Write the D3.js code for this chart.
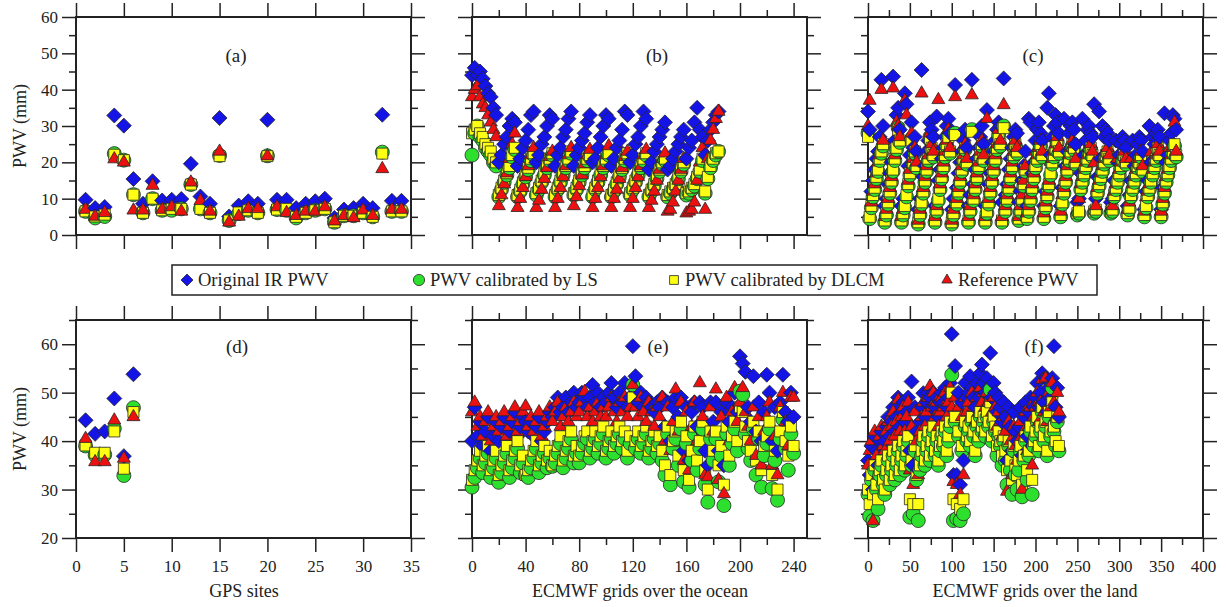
<!DOCTYPE html>
<html>
<head>
<meta charset="utf-8">
<script src="https://cdn.jsdelivr.net/npm/d3@7"></script>
<style>
body { margin: 0; background: #fff; }
svg text { font-family: "Liberation Serif", "Times New Roman", serif; fill: #222; }
.tick text { font-size: 17px; }
</style>
</head>
<body>
<svg id="chart" width="1226" height="607" font-family="Liberation Serif"></svg>
<script>
// ---- data ----
const seriesNames = ["Original IR PWV", "PWV calibrated by LS", "PWV calibrated by DLCM", "Reference PWV"];
const seriesColors = ["#1414e6", "#2ee02e", "#ffff14", "#ec1010"];

// (a) GPS sites, first period
const aSite = d3.range(1, 35);
const aIR   = [9.7,7.4,7.7,32.9,30.1,15.4,8.6,14.8,9.5,9.7,9.9,19.6,10.6,8.6,32.2,5.1,8.1,9.3,8.6,31.7,9.7,9.7,7.4,8.6,9.3,10.0,4.7,7.0,7.4,8.6,7.4,33.1,9.4,9.4];
const aLS   = [6.5,4.7,5.1,22.4,20.6,11.1,6.1,10.0,6.8,6.8,7.2,13.9,7.2,6.1,21.9,4.0,5.9,6.8,6.1,21.8,7.0,6.8,4.7,6.1,6.8,7.2,3.5,5.3,5.3,6.1,5.0,22.8,6.5,6.5];
const aDLCM = [6.5,5.1,5.6,22.1,20.6,11.1,6.1,10.0,6.8,7.2,7.2,13.9,7.2,6.1,21.7,4.0,6.2,6.8,6.1,21.7,7.0,7.2,5.0,6.1,6.8,7.2,3.5,5.3,5.3,6.1,5.0,22.4,6.5,6.5];
const aRef  = [7.0,5.1,6.1,20.9,20.0,6.8,6.8,13.6,7.0,7.7,6.5,14.5,9.4,6.5,23.0,3.5,5.1,7.2,7.2,21.7,7.7,6.1,5.3,6.5,6.5,7.7,3.8,5.3,4.7,6.8,5.3,18.2,7.0,7.0];

// (b) ECMWF grids over the ocean, first period
const bGrid = d3.range(0, 185, 2);
const bIR = [44,46,44,45,43,41,39,38,35,33,
  20,22,25,27,30,32,31, 19,21,24,26,29,33,34, 20,22,25,27,30,33,32, 19,22,24,27,29,32,34,
  19,22,24,26,28,31,33, 20,21,24,27,30,33,32, 19,21,24,26,29,34,33, 20,22,25,27,30,34,32,
  18,20,23,25,27,29,31, 18,19,21,23,25,27,29, 21,24,26,31,35,29,27,
  22,26,29,31,33,34];
const bLS = [22,28,30,27,26,24,23,22,20,19,
  10.5,12.5,14.5,16.5,18.5,21.5,23.5, 10.5,12,14,16,18,20.5,22, 11,12.5,14.5,16.5,18.5,20.5,22, 10.5,12.5,14.5,16.5,18.5,20.5,22.5,
  11,12.5,14.5,16.5,18.5,20.5,21.5, 10.5,12.5,14.5,16.5,18.5,20.5,22, 10.5,12,14,16,18,20.5,22, 11,12.5,14.5,16.5,18.5,20.5,22,
  10.5,12,13.5,15.5,17.5,19.5,20.5, 10.5,11.5,12.5,13.5,15.5,17.5,19.5, 11,11.5,12.5,13.5,15.5,17.5,20.5,
  11.5,15.5,18.5,20.5,22,23];
const bDLCM = [28,29,30,28,27,25,24,23,21,20,
  11,13,15,17,19,22,24, 11,12.5,14.5,16.5,18.5,21,22.5, 11.5,13,15,17,19,21,22.5, 11,13,15,17,19,21,23,
  11.5,13,15,17,19,21,22, 11,13,15,17,19,21,22.5, 11,12.5,14.5,16.5,18.5,21,22.5, 11.5,13,15,17,19,21,22.5,
  11,12.5,14,16,18,20,21, 11,12,13,14,16,18,20, 11.5,12,13,14,16,18,21,
  12,16,19,21,22.5,23];
const bRef = [38,40,41,38,36,35,33,31,29,27,
  8,11,14,17,21,25,28, 7.5,10,13,16,19,22,24, 7.5,9.5,12.5,15.5,18.5,21.5,23, 7.5,10,13,16,19,22,24,
  8,10.5,13.5,16.5,19.5,22,23.5, 7.5,10,13,16,19,22,24.5, 7.5,10,12.5,15.5,18.5,21.5,23, 7.5,10,13,16,19,22,23.5,
  7.5,9.5,12,15,18,21,22.5, 6.5,7,9,12,15,18,21, 6,6.5,7,9,15,20,24,
  7,21,26,29,32,34];

// (c) ECMWF grids over the land, first period
const cGrid = d3.range(0, 369, 2);
const cIR = [
  34,29,12,15,18,21,23,27,42.7,30, 8,10,14,17,20,43.6,26,33,35,29, 8,10,39,36,19,22,31,24,27,23,
  7,10,45.4,16,19,23,26,31,29,27, 8,32.6,15,18,21,24,27,30,32,28, 7,10,41.3,13,17,20,23,26,29,24,
  8,11,42.7,14,18,21,24,27,30,25, 8,34.4,14,17,20,23,26,29,31,30, 9,43.1,11,14,18,21,24,27,29,28,
  9,12,15,19,23,
  8,32,31,17,20,26,29,31,28,26, 8,12,35,39,22,27,30,33,31,28, 8,13,32,19,23,28,30,31,29,25,
  9,10,17,32,22,26,29,30,28,27, 36,10,16,34,21,30,27,29,28,26, 9,10,15,26,20,22,25,27,26,24,
  8,11,15,26,19,22,25,27,26,23, 7,12,15,30,20,27,25,28,29,27, 7,13,33.5,20,22,26,28,33,32,29];
const cLS = [
  28,4.5,7.5,10.5,12.5,15.5,17.5,20.5,22.5,24.5, 3.5,5.5,8.5,11.5,14.5,17.5,20.5,23.5,29.5,25.5, 3.5,5.5,7.5,10.5,13.5,16.5,26.5,19.5,22.5,18.5,
  3,5.5,8.5,11.5,14.5,17.5,20.5,27,23.5,21.5, 3.5,6.5,9.5,12.5,15.5,18.5,21.5,24.5,27.5,22.5, 3,5.5,28,8.5,11.5,14.5,17.5,20.5,23.5,19.5,
  3.5,6.5,29,9.5,12.5,15.5,18.5,21.5,24.5,20.5, 3.5,6,8.5,11.5,14.5,17.5,20.5,23.5,27.5,24.5, 3.5,30,6.5,9.5,12.5,15.5,18.5,21.5,24.5,22.5,
  4,6.5,9.5,13.5,17.5,
  4.5,6.5,9.5,12.5,15.5,18.5,20.5,22.5,24.5,21.5, 4.5,7.5,10.5,13.5,16.5,19.5,21.5,23.5,25.5,22.5, 5,8.5,11.5,14.5,17.5,20.5,22.5,24.5,23.5,19.5,
  5.5,6,12.5,14.5,16.5,18.5,20.5,22.5,23.5,21.5, 6,6.5,11.5,13.5,15.5,17.5,19.5,21.5,22.5,20.5, 6,6.5,10.5,12.5,14.5,16.5,18.5,20.5,21.5,19.5,
  5.5,7,10.5,12.5,14.5,16.5,18.5,19.5,21.5,17.5, 5,7.5,10.5,12.5,14.5,16.5,18.5,20.5,23.5,21.5, 5,8.5,11.5,14.5,16.5,18.5,20.5,22.5,24.5,21.5];
const cDLCM = [
  27,5,8,11,13,16,18,21,23,25, 4,6,9,12,15,18,21,24,29,26, 4,6,8,11,14,17,26,20,23,19,
  3.5,6,9,12,15,18,21,26.5,24,22, 4,7,10,13,16,19,22,25,27,23, 3.5,6,27.5,9,12,15,18,21,24,20,
  4,7,28.4,10,13,16,19,22,25,21, 4,6.5,9,12,15,18,21,24,27,25, 4,29.4,7,10,13,16,19,22,25,23,
  4.5,7,10,14,18,
  5,7,10,13,16,19,21,23,25,22, 5,8,11,14,17,20,22,24,26,23, 5.5,9,12,15,18,21,23,25,24,20,
  6,6.5,13,15,17,19,21,23,24,22, 6.5,7,12,14,16,18,20,22,23,21, 6.5,7,11,13,15,17,19,21,22,20,
  6,7.5,11,13,15,17,19,20,22,18, 5.5,8,11,13,15,17,19,21,24,22, 5.5,9,12,15,17,19,21,23,25,22];
const cRef = [
  30,37,9,12,14,17,20,22,40,26, 5,7,10,13,16,40.4,22,31,30,27, 5,7,37,33,15,18,28,21,24,20,
  4,7,39,13,16,19,22,28,25,23, 5,8,37.2,14,17,20,23,26,29,24, 4,7,38,10,13,16,19,22,25,21,
  5,8,38.5,11,14,17,20,23,26,22, 5,32,10,13,16,19,22,25,29,26, 5,35.8,8,11,14,17,20,23,26,24,
  5,8,11,15,19,
  6,8,11,14,17,23,22,24,26,23, 6,9,12,15,20.2,21,23,25,27,24, 6.5,11,13,16,19,22,24,26,25,21,
  7,10,14,16,18,20,22,24,25,23, 19.8,8,13,15,17,19,21,23,24,22, 7.5,8,12,14,21,18,20,22,23,21,
  7,9,21,14,16,18,20,21,23,19, 6.5,10.4,12,14,22.8,18,20,22,25,23, 6.5,10,13,16,18,24,22,24,31,23];

// (d) GPS sites, second period
const dSite = d3.range(1, 7);
const dIR   = [44.3, 41.5, 42.0, 48.8, 36.9, 53.8];
const dLS   = [39.0, 37.1, 37.2, 42.6, 32.9, 46.9];
const dDLCM = [39.1, 37.6, 37.6, 42.0, 34.3, 46.0];
const dRef  = [40.5, 35.7, 35.7, 44.3, 36.4, 45.0];

// (e) ocean, second period
const eGrid = d3.range(0, 241, 2);
const eIR = [
  40,47,41,44,39,42,45,38,41,44, 40,43,45,40,42,44,46,41,43,45, 44,42,44,41,43,45,40,42,44,46,
  45,47,49,46,47,49,46,48,50,47, 48,50,49,47,49,51.6,48,50,47,49, 48,50,52,49,47,50,48,52,47,49,
  59.6,53.4,48,50,47,49,48,47,46,48, 47,49,43,48,40,47,49,45,49,38, 47,36,46,48,43,48,47,38,35,48,
  44,48,38,46,35,48,44,47,50,46, 57.5,56,54.3,47,44,53.4,42,48,40,46, 53.7,50,40,47,38,48,53.7,46,44,50,
  45];
const eLS = [
  30.5,32.5,34.5,36.5,33.5,35.5,37.5,32.5,34.5,36.5, 31.5,33.5,35.5,37.5,32.5,34.5,36.5,38.5,33.5,35.5, 33,32.5,34.5,36.5,38.5,33.5,35.5,37.5,34.5,36.5,
  34.8,35.5,37.5,39.5,34.5,36.5,38.5,40.5,35.5,37.5, 35.5,37.5,39.5,40.5,36.5,38.5,40.5,37.5,39.5,41.5, 36.5,38.5,40.5,37.5,39.5,41.5,38.5,40.5,36.5,39.5,
  51.6,38.5,40.5,37.5,39.5,41.5,36.5,38.5,40.5,37.5, 39.5,36,33,41.5,31,38.5,40.5,35,42.5,31.6, 39.5,30.5,36,41.5,34,38.5,42.5,31,27.4,40.5,
  36,40.5,31.6,37,26.7,41.5,35,39.5,42.5,38, 50.3,49.6,41.5,38.5,36,42.5,33,40.5,30.5,37, 39.5,42.5,30.2,36,27.8,40.5,44.5,38.5,34,41.5,
  37.5];
const eDLCM = [
  32,34,36,38,35,37,39,34,36,38, 33,35,37,39,34,36,38,40,35,37, 33,34,36,38,40,35,37,39,36,38,
  35,37,39,41,36,38,40,42,37,39, 37,39,41,42,38,40,42,39,41,43, 38,40,42,39,41,43,40,42,38,41,
  49,40,42,39,41,43,38,40,42,39, 41,38,35,43,33,40,42,37,44,34, 41,32,38,43,36,40,44,34,30,42,
  38,42,35,39,31,43,37,41,44,40, 47,46,43,40,38,44,36,42,34,39, 41,44,33,38,30,42,46,40,37,43,
  39];
const eRef = [
  46,48,43,45,41,44,46,40,43,45, 42,44,46,41,43,45,47,42,44,46, 47.2,43,45,42,44,46,41,43,45,47,
  44,46,48,43,45,47,44,46,48,45, 46,48,50.2,45,47,44,46,48,45,47, 45,47,49,46,44,48,46,49,45,47,
  51.6,47,45,49,46,44,48,46,43,47, 45,49,40,47,38,44,50.7,42,48,36, 46,34,43,48,40,52,45,33,32.6,47,
  42,50.7,32,45,29.1,49,40,46,51,44, 48,51,46,43,40,47,37,45,35,42, 45,48,35,41,33,47,50,44,39,49,
  49];

// (f) land, second period
const fGrid = d3.range(0, 229, 2);
const fIR = [
  36,33,39,30,41,38,35,40,42,39, 40,43,45,41,44,47,42,45,49,43, 46,48,44,46,49,38,52.3,35,47,42,
  34,44,47,49.9,45,48,50,49,47,50, 47,49,45,48,50,48,51,47,49,52, 62.1,33,55.5,33,50,31,48,36,52,49,
  50,53.4,51,49,47,52,49,54,55.8,52, 50,53,51,58.2,49,52,50,46,49,47, 44,48,45,36,47,43,38,46,42,40,
  43,47,37,45,48,41,46,49,39,47, 49,52,47,50,54,48,53,46,51,49,
  53,59.6,47,51,45];
const fLS = [
  29,24.5,32,23.6,34,30,26,33,35,31, 29,33,36,31,34,37,32,35,38,33, 36,39,34,37,40,24.3,35,25,38,32,
  23.6,34,37,40,35,38,41,36,39,42, 37,40,35,38,41,39,42,37,40,43, 53.7,23.6,44,24,41,23.6,38,25,43,40,
  42,39,44,41,37,43,40,45,42,44, 41,45,43,50.6,40,44,42,37,41,39, 35,40,36,31,39,34,29,38,33,30,
  34,38,28.5,36,40,32,37,42,29,39, 41,44,38,42,46,40,43,37,45,41,
  51,42,39,44,38];
const fDLCM = [
  30,27,33,29,35,31,28,34,36,32, 30,34,37,32,35,38,33,36,39,34, 37,40,35,38,41,28,36,27,39,33,
  27,35,38,41,36,39,42,37,40,43, 38,41,36,39,42,40,43,38,41,44, 50,28,45,27,42,26,39,28,44,41,
  43,40,45,42,38,44,41,46,43,45, 42,46,44,48,41,45,43,39,42,40, 37,41,38,34,40,36,32,39,35,33,
  36,39,31,37,41,34,38,43,32,40, 42,45,39,43,47,41,44,38,46,42,
  48,43,40,45,39];
const fRef = [
  35,38,40,23.5,42,37,33,41,43,39, 38,42,44,40,43,46,41,44,48.5,42, 45,47,42,45,48,34,43,31,46,40,
  33,42,45,48,43,46,49,51.3,47,50, 45,48,43,46,49,47,50,45,48,51, 47,31.6,49,31,47,29,45,33,49,46,
  48,45,50,47,44,49,46,51,48,50, 47,50,48,49,46,49,47,43,46,44, 41,45,42,29.6,44,40,33,43,39,36,
  40,44,30,42,46,38,43,47,35,45, 47,50,44,48,52.7,46,53,44,50,47,
  52,48,45,50,46];

// ticks
const sitesTicks = [0, 5, 10, 15, 20, 25, 30, 35];
const oceanMajor = [0, 40, 80, 120, 160, 200, 240];
const oceanMinor = [20, 60, 100, 140, 180, 220];
const landMajor = [0, 50, 100, 150, 200, 250, 300, 350, 400];
const landMinor = [25, 75, 125, 175, 225, 275, 325, 375];
const topMajor = [0, 10, 20, 30, 40, 50, 60];
const topMinor = [5, 15, 25, 35, 45, 55];
const botMajor = [20, 30, 40, 50, 60];
const botMinor = [25, 35, 45, 55, 65];

// ---- layout ----
const svg = d3.select("#chart");
const W = 335, H = 218;
const colLeft = [76, 472, 868];
const rowTop = [17, 320];

const panels = [
  {tag: "(a)", col: 0, row: 0, xd: [0, 35], xMaj: sitesTicks, xMin: [], x: aSite, s: [aIR, aLS, aDLCM, aRef], lx: 160},
  {tag: "(b)", col: 1, row: 0, xd: [0, 250], xMaj: oceanMajor, xMin: oceanMinor, x: bGrid, s: [bIR, bLS, bDLCM, bRef], lx: 185},
  {tag: "(c)", col: 2, row: 0, xd: [0, 400], xMaj: landMajor, xMin: landMinor, x: cGrid, s: [cIR, cLS, cDLCM, cRef], lx: 165},
  {tag: "(d)", col: 0, row: 1, xd: [0, 35], xMaj: sitesTicks, xMin: [], x: dSite, s: [dIR, dLS, dDLCM, dRef], lx: 161},
  {tag: "(e)", col: 1, row: 1, xd: [0, 250], xMaj: oceanMajor, xMin: oceanMinor, x: eGrid, s: [eIR, eLS, eDLCM, eRef], lx: 186},
  {tag: "(f)", col: 2, row: 1, xd: [0, 400], xMaj: landMajor, xMin: landMinor, x: fGrid, s: [fIR, fLS, fDLCM, fRef], lx: 166}
];

function markerPath(k, big) {
  const f = big ? 1 : 0.8;
  if (k === 0) { const r = 7.5 * f; return `M0,${-r}L${r},0L0,${r}L${-r},0Z`; }
  if (k === 1) return d3.symbol().type(d3.symbolCircle).size(Math.PI * 49 * f * f)();
  if (k === 2) return d3.symbol().type(d3.symbolSquare).size(121 * f * f)();
  return d3.symbol().type(d3.symbolTriangle).size(0.433 * 169 * f * f)();
}

function addAxis(g, axis, tf) {
  g.append("g").attr("transform", tf).call(axis)
    .attr("font-size", null).attr("font-family", null)
    .call(s => s.select(".domain").remove())
    .call(s => s.selectAll(".tick line").attr("stroke", "#222").attr("stroke-width", 1.5));
}

function drawPanel(p) {
  const left = colLeft[p.col], top = rowTop[p.row];
  const x = d3.scaleLinear().domain(p.xd).range([left, left + W]);
  const y = d3.scaleLinear().domain(p.row === 0 ? [0, 60] : [20, 65]).range([top + H, top]);
  const yMaj = p.row === 0 ? topMajor : botMajor;
  const yMin = p.row === 0 ? topMinor : botMinor;
  const g = svg.append("g");

  const xLab = p.row === 1 ? d3.format("d") : "";
  const yLab = p.col === 0 ? d3.format("d") : "";
  addAxis(g, d3.axisBottom(x).tickValues(p.xMaj).tickSize(14).tickPadding(8).tickFormat(xLab), `translate(0,${top + H})`);
  addAxis(g, d3.axisBottom(x).tickValues(p.xMin).tickSize(7).tickFormat(""), `translate(0,${top + H})`);
  addAxis(g, d3.axisTop(x).tickValues(p.xMaj).tickSize(14).tickFormat(""), `translate(0,${top})`);
  addAxis(g, d3.axisTop(x).tickValues(p.xMin).tickSize(7).tickFormat(""), `translate(0,${top})`);
  addAxis(g, d3.axisLeft(y).tickValues(yMaj).tickSize(14).tickPadding(4).tickFormat(yLab), `translate(${left},0)`);
  addAxis(g, d3.axisLeft(y).tickValues(yMin).tickSize(7).tickFormat(""), `translate(${left},0)`);
  addAxis(g, d3.axisRight(y).tickValues(yMaj).tickSize(14).tickFormat(""), `translate(${left + W},0)`);
  addAxis(g, d3.axisRight(y).tickValues(yMin).tickSize(7).tickFormat(""), `translate(${left + W},0)`);

  g.append("rect")
    .attr("x", left).attr("y", top).attr("width", W).attr("height", H)
    .attr("fill", "none").attr("stroke", "#222").attr("stroke-width", 2);

  // one group per site/grid, the four estimates drawn in legend order
  const paths = [0, 1, 2, 3].map(k => markerPath(k, true));
  g.append("g").selectAll("g")
    .data(p.x.map((xv, i) => ({xv, i})))
    .join("g")
    .each(function(d) {
      const gp = d3.select(this);
      p.s.forEach((vals, k) => {
        gp.append("path")
          .attr("d", paths[k])
          .attr("transform", `translate(${x(d.xv)},${y(vals[d.i])})`)
          .attr("fill", seriesColors[k])
          .attr("stroke", "#262626")
          .attr("stroke-width", 0.8);
      });
    });

  g.append("text")
    .attr("x", left + p.lx).attr("y", top + (p.row === 0 ? 45 : 33))
    .attr("text-anchor", "middle").attr("font-size", 19)
    .text(p.tag);
}

panels.forEach(drawPanel);

// axis titles
[126, 429].forEach(cy => {
  svg.append("text")
    .attr("transform", `translate(26,${cy}) rotate(-90)`)
    .attr("text-anchor", "middle").attr("font-size", 18)
    .text("PWV (mm)");
});
const xTitles = ["GPS sites", "ECMWF grids over the ocean", "ECMWF grids over the land"];
const xTitleCx = [244, 640, 1035];
xTitles.forEach((t, i) => {
  svg.append("text")
    .attr("x", xTitleCx[i]).attr("y", 597)
    .attr("text-anchor", "middle").attr("font-size", 18)
    .text(t);
});

// legend
const legend = svg.append("g");
legend.append("rect")
  .attr("x", 172).attr("y", 265).attr("width", 925).attr("height", 30)
  .attr("fill", "#fff").attr("stroke", "#222").attr("stroke-width", 1.5);
const legendX = [187, 419, 674, 947];
seriesNames.forEach((name, k) => {
  legend.append("path")
    .attr("d", markerPath(k, false))
    .attr("transform", `translate(${legendX[k]},280)`)
    .attr("fill", seriesColors[k]).attr("stroke", "#262626").attr("stroke-width", 0.8);
  legend.append("text")
    .attr("x", legendX[k] + 11).attr("y", 280).attr("dy", "0.35em")
    .attr("font-size", 18.5)
    .text(name);
});
</script>
</body>
</html>
